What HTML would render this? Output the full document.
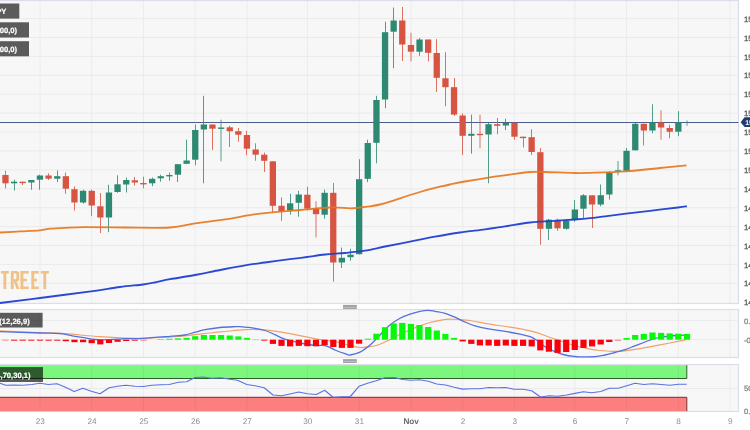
<!DOCTYPE html>
<html><head><meta charset="utf-8"><title>chart</title>
<style>html,body{margin:0;padding:0;background:#fff;overflow:hidden}svg{display:block;will-change:transform;text-rendering:geometricPrecision}</style></head>
<body><svg width="750" height="430" viewBox="0 0 750 430" font-family="Liberation Sans">
<defs><filter id="b" x="-10" y="-10" width="770" height="450" filterUnits="userSpaceOnUse" color-interpolation-filters="sRGB"><feGaussianBlur stdDeviation="0.38"/></filter></defs>
<rect x="0" y="0" width="750" height="430" fill="#fff"/>
<g filter="url(#b)">
<rect x="-10" y="-10" width="770" height="450" fill="#fff"/>
<rect x="-4" y="0.5" width="742.5" height="303" fill="#f7f7f8" stroke="#dcdde8" stroke-width="1.2"/>
<rect x="-4" y="309.5" width="742.5" height="48" fill="#f7f7f8" stroke="#dcdde8" stroke-width="1.2"/>
<rect x="-4" y="364.5" width="742.5" height="47" fill="#f7f7f8" stroke="#dcdde8" stroke-width="1.2"/>
<line x1="40.0" y1="1" x2="40.0" y2="303" stroke="#ececef" stroke-width="1"/>
<line x1="40.0" y1="310" x2="40.0" y2="357" stroke="#ececef" stroke-width="1"/>
<line x1="40.0" y1="365" x2="40.0" y2="411" stroke="#ececef" stroke-width="1"/>
<line x1="91.7" y1="1" x2="91.7" y2="303" stroke="#ececef" stroke-width="1"/>
<line x1="91.7" y1="310" x2="91.7" y2="357" stroke="#ececef" stroke-width="1"/>
<line x1="91.7" y1="365" x2="91.7" y2="411" stroke="#ececef" stroke-width="1"/>
<line x1="143.5" y1="1" x2="143.5" y2="303" stroke="#ececef" stroke-width="1"/>
<line x1="143.5" y1="310" x2="143.5" y2="357" stroke="#ececef" stroke-width="1"/>
<line x1="143.5" y1="365" x2="143.5" y2="411" stroke="#ececef" stroke-width="1"/>
<line x1="195.2" y1="1" x2="195.2" y2="303" stroke="#ececef" stroke-width="1"/>
<line x1="195.2" y1="310" x2="195.2" y2="357" stroke="#ececef" stroke-width="1"/>
<line x1="195.2" y1="365" x2="195.2" y2="411" stroke="#ececef" stroke-width="1"/>
<line x1="247.0" y1="1" x2="247.0" y2="303" stroke="#ececef" stroke-width="1"/>
<line x1="247.0" y1="310" x2="247.0" y2="357" stroke="#ececef" stroke-width="1"/>
<line x1="247.0" y1="365" x2="247.0" y2="411" stroke="#ececef" stroke-width="1"/>
<line x1="307.4" y1="1" x2="307.4" y2="303" stroke="#ececef" stroke-width="1"/>
<line x1="307.4" y1="310" x2="307.4" y2="357" stroke="#ececef" stroke-width="1"/>
<line x1="307.4" y1="365" x2="307.4" y2="411" stroke="#ececef" stroke-width="1"/>
<line x1="359.1" y1="1" x2="359.1" y2="303" stroke="#ececef" stroke-width="1"/>
<line x1="359.1" y1="310" x2="359.1" y2="357" stroke="#ececef" stroke-width="1"/>
<line x1="359.1" y1="365" x2="359.1" y2="411" stroke="#ececef" stroke-width="1"/>
<line x1="410.9" y1="1" x2="410.9" y2="303" stroke="#ececef" stroke-width="1"/>
<line x1="410.9" y1="310" x2="410.9" y2="357" stroke="#ececef" stroke-width="1"/>
<line x1="410.9" y1="365" x2="410.9" y2="411" stroke="#ececef" stroke-width="1"/>
<line x1="462.7" y1="1" x2="462.7" y2="303" stroke="#ececef" stroke-width="1"/>
<line x1="462.7" y1="310" x2="462.7" y2="357" stroke="#ececef" stroke-width="1"/>
<line x1="462.7" y1="365" x2="462.7" y2="411" stroke="#ececef" stroke-width="1"/>
<line x1="514.4" y1="1" x2="514.4" y2="303" stroke="#ececef" stroke-width="1"/>
<line x1="514.4" y1="310" x2="514.4" y2="357" stroke="#ececef" stroke-width="1"/>
<line x1="514.4" y1="365" x2="514.4" y2="411" stroke="#ececef" stroke-width="1"/>
<line x1="574.8" y1="1" x2="574.8" y2="303" stroke="#ececef" stroke-width="1"/>
<line x1="574.8" y1="310" x2="574.8" y2="357" stroke="#ececef" stroke-width="1"/>
<line x1="574.8" y1="365" x2="574.8" y2="411" stroke="#ececef" stroke-width="1"/>
<line x1="626.6" y1="1" x2="626.6" y2="303" stroke="#ececef" stroke-width="1"/>
<line x1="626.6" y1="310" x2="626.6" y2="357" stroke="#ececef" stroke-width="1"/>
<line x1="626.6" y1="365" x2="626.6" y2="411" stroke="#ececef" stroke-width="1"/>
<line x1="678.3" y1="1" x2="678.3" y2="303" stroke="#ececef" stroke-width="1"/>
<line x1="678.3" y1="310" x2="678.3" y2="357" stroke="#ececef" stroke-width="1"/>
<line x1="678.3" y1="365" x2="678.3" y2="411" stroke="#ececef" stroke-width="1"/>
<line x1="730.1" y1="1" x2="730.1" y2="303" stroke="#ececef" stroke-width="1"/>
<line x1="730.1" y1="310" x2="730.1" y2="357" stroke="#ececef" stroke-width="1"/>
<line x1="730.1" y1="365" x2="730.1" y2="411" stroke="#ececef" stroke-width="1"/>
<line x1="-4" y1="18.6" x2="738.5" y2="18.6" stroke="#eaeaeb" stroke-width="1"/>
<line x1="-4" y1="37.5" x2="738.5" y2="37.5" stroke="#eaeaeb" stroke-width="1"/>
<line x1="-4" y1="56.4" x2="738.5" y2="56.4" stroke="#eaeaeb" stroke-width="1"/>
<line x1="-4" y1="75.3" x2="738.5" y2="75.3" stroke="#eaeaeb" stroke-width="1"/>
<line x1="-4" y1="94.2" x2="738.5" y2="94.2" stroke="#eaeaeb" stroke-width="1"/>
<line x1="-4" y1="113.1" x2="738.5" y2="113.1" stroke="#eaeaeb" stroke-width="1"/>
<line x1="-4" y1="132.0" x2="738.5" y2="132.0" stroke="#eaeaeb" stroke-width="1"/>
<line x1="-4" y1="150.9" x2="738.5" y2="150.9" stroke="#eaeaeb" stroke-width="1"/>
<line x1="-4" y1="169.9" x2="738.5" y2="169.9" stroke="#eaeaeb" stroke-width="1"/>
<line x1="-4" y1="188.8" x2="738.5" y2="188.8" stroke="#eaeaeb" stroke-width="1"/>
<line x1="-4" y1="207.7" x2="738.5" y2="207.7" stroke="#eaeaeb" stroke-width="1"/>
<line x1="-4" y1="226.6" x2="738.5" y2="226.6" stroke="#eaeaeb" stroke-width="1"/>
<line x1="-4" y1="245.5" x2="738.5" y2="245.5" stroke="#eaeaeb" stroke-width="1"/>
<line x1="-4" y1="264.4" x2="738.5" y2="264.4" stroke="#eaeaeb" stroke-width="1"/>
<line x1="-4" y1="283.3" x2="738.5" y2="283.3" stroke="#eaeaeb" stroke-width="1"/>
<line x1="-4" y1="320.4" x2="738.5" y2="320.4" stroke="#eaeaeb" stroke-width="1"/>
<line x1="-4" y1="339.6" x2="738.5" y2="339.6" stroke="#eaeaeb" stroke-width="1"/>
<line x1="-4" y1="388.5" x2="738.5" y2="388.5" stroke="#eaeaeb" stroke-width="1"/>
<g opacity="0.88">
<rect x="0.90" y="271.00" width="7.90" height="2.60" fill="#efbb78"/>
<rect x="3.40" y="271.00" width="2.90" height="18.10" fill="#efbb78"/>
<rect x="10.80" y="271.00" width="2.90" height="18.10" fill="#efbb78"/>
<path d="M13.5,271 H16.2 Q19.2,271 19.2,274 V278.6 Q19.2,281.4 16.6,281.6 L19.6,289.1 H16.6 L13.9,281.8 H13.5 V279.3 H15.4 Q16.4,279.3 16.4,278.2 V274.6 Q16.4,273.6 15.4,273.6 H13.5 Z" fill="#efbb78"/>
<rect x="20.50" y="271.00" width="2.90" height="18.10" fill="#efbb78"/>
<rect x="20.50" y="271.00" width="8.30" height="2.60" fill="#efbb78"/>
<rect x="20.50" y="278.80" width="6.40" height="2.60" fill="#efbb78"/>
<rect x="20.50" y="286.50" width="8.30" height="2.60" fill="#efbb78"/>
<rect x="31.40" y="271.00" width="2.90" height="18.10" fill="#efbb78"/>
<rect x="31.40" y="271.00" width="7.40" height="2.60" fill="#efbb78"/>
<rect x="31.40" y="278.80" width="5.60" height="2.60" fill="#efbb78"/>
<rect x="31.40" y="286.50" width="7.40" height="2.60" fill="#efbb78"/>
<rect x="40.70" y="271.00" width="8.20" height="2.60" fill="#efbb78"/>
<rect x="43.30" y="271.00" width="2.90" height="18.10" fill="#efbb78"/>
</g>
<line x1="-4" y1="122.4" x2="738.5" y2="122.4" stroke="#4c5d8b" stroke-width="1.05"/>
<line x1="5.5" y1="170.8" x2="5.5" y2="188.3" stroke="#d65441" stroke-width="1" opacity="0.82"/>
<rect x="2.3" y="175.0" width="6.3" height="8.3" fill="#d65441"/>
<line x1="14.5" y1="179.7" x2="14.5" y2="190.5" stroke="#2e8972" stroke-width="1" opacity="0.82"/>
<rect x="10.9" y="181.7" width="6.3" height="1.6" fill="#2e8972"/>
<line x1="22.5" y1="181.7" x2="22.5" y2="185.0" stroke="#d65441" stroke-width="1" opacity="0.82"/>
<rect x="19.5" y="181.7" width="6.3" height="1.4" fill="#d65441"/>
<line x1="31.5" y1="180.0" x2="31.5" y2="189.7" stroke="#2e8972" stroke-width="1" opacity="0.82"/>
<rect x="28.2" y="180.0" width="6.3" height="2.5" fill="#2e8972"/>
<line x1="39.5" y1="174.7" x2="39.5" y2="189.7" stroke="#2e8972" stroke-width="1" opacity="0.82"/>
<rect x="36.8" y="175.5" width="6.3" height="4.2" fill="#2e8972"/>
<line x1="48.5" y1="173.3" x2="48.5" y2="180.0" stroke="#d65441" stroke-width="1" opacity="0.82"/>
<rect x="45.4" y="175.5" width="6.3" height="3.2" fill="#d65441"/>
<line x1="57.5" y1="170.5" x2="57.5" y2="182.0" stroke="#2e8972" stroke-width="1" opacity="0.82"/>
<rect x="54.1" y="176.2" width="6.3" height="2.5" fill="#2e8972"/>
<line x1="65.5" y1="172.5" x2="65.5" y2="193.8" stroke="#d65441" stroke-width="1" opacity="0.82"/>
<rect x="62.7" y="176.2" width="6.3" height="12.5" fill="#d65441"/>
<line x1="74.5" y1="186.3" x2="74.5" y2="210.5" stroke="#d65441" stroke-width="1" opacity="0.82"/>
<rect x="71.3" y="189.2" width="6.3" height="13.3" fill="#d65441"/>
<line x1="83.5" y1="189.7" x2="83.5" y2="203.7" stroke="#2e8972" stroke-width="1" opacity="0.82"/>
<rect x="79.9" y="190.8" width="6.3" height="11.7" fill="#2e8972"/>
<line x1="91.5" y1="189.7" x2="91.5" y2="216.2" stroke="#d65441" stroke-width="1" opacity="0.82"/>
<rect x="88.6" y="190.8" width="6.3" height="14.7" fill="#d65441"/>
<line x1="100.5" y1="193.0" x2="100.5" y2="233.0" stroke="#d65441" stroke-width="1" opacity="0.82"/>
<rect x="97.2" y="206.3" width="6.3" height="11.2" fill="#d65441"/>
<line x1="108.5" y1="184.7" x2="108.5" y2="232.2" stroke="#2e8972" stroke-width="1" opacity="0.82"/>
<rect x="105.8" y="192.5" width="6.3" height="25.0" fill="#2e8972"/>
<line x1="117.5" y1="175.3" x2="117.5" y2="192.8" stroke="#2e8972" stroke-width="1" opacity="0.82"/>
<rect x="114.4" y="184.3" width="6.3" height="7.7" fill="#2e8972"/>
<line x1="126.5" y1="177.5" x2="126.5" y2="192.5" stroke="#2e8972" stroke-width="1" opacity="0.82"/>
<rect x="123.1" y="180.0" width="6.3" height="4.5" fill="#2e8972"/>
<line x1="134.5" y1="177.0" x2="134.5" y2="185.5" stroke="#d65441" stroke-width="1" opacity="0.82"/>
<rect x="131.7" y="180.3" width="6.3" height="2.2" fill="#d65441"/>
<line x1="143.5" y1="176.7" x2="143.5" y2="188.3" stroke="#d65441" stroke-width="1" opacity="0.82"/>
<rect x="140.3" y="183.0" width="6.3" height="1.4" fill="#d65441"/>
<line x1="152.5" y1="177.5" x2="152.5" y2="186.2" stroke="#2e8972" stroke-width="1" opacity="0.82"/>
<rect x="149.0" y="178.8" width="6.3" height="4.5" fill="#2e8972"/>
<line x1="160.5" y1="174.7" x2="160.5" y2="181.7" stroke="#2e8972" stroke-width="1" opacity="0.82"/>
<rect x="157.6" y="176.2" width="6.3" height="2.1" fill="#2e8972"/>
<line x1="169.5" y1="172.5" x2="169.5" y2="180.8" stroke="#2e8972" stroke-width="1" opacity="0.82"/>
<rect x="166.2" y="175.0" width="6.3" height="1.4" fill="#2e8972"/>
<line x1="177.5" y1="164.0" x2="177.5" y2="182.0" stroke="#2e8972" stroke-width="1" opacity="0.82"/>
<rect x="174.8" y="164.2" width="6.3" height="10.5" fill="#2e8972"/>
<line x1="186.5" y1="139.7" x2="186.5" y2="163.8" stroke="#2e8972" stroke-width="1" opacity="0.82"/>
<rect x="183.5" y="160.5" width="6.3" height="3.3" fill="#2e8972"/>
<line x1="195.5" y1="124.5" x2="195.5" y2="165.3" stroke="#2e8972" stroke-width="1" opacity="0.82"/>
<rect x="192.1" y="130.0" width="6.3" height="29.7" fill="#2e8972"/>
<line x1="203.5" y1="95.8" x2="203.5" y2="183.3" stroke="#2e8972" stroke-width="1" opacity="0.82"/>
<rect x="200.7" y="124.5" width="6.3" height="5.0" fill="#2e8972"/>
<line x1="212.5" y1="124.5" x2="212.5" y2="150.0" stroke="#d65441" stroke-width="1" opacity="0.82"/>
<rect x="209.3" y="124.5" width="6.3" height="4.2" fill="#d65441"/>
<line x1="221.0" y1="119.7" x2="221.0" y2="161.3" stroke="#2e8972" stroke-width="1" opacity="0.82"/>
<rect x="218.0" y="127.5" width="6.3" height="1.4" fill="#2e8972"/>
<line x1="229.5" y1="125.8" x2="229.5" y2="147.0" stroke="#d65441" stroke-width="1" opacity="0.82"/>
<rect x="226.6" y="127.3" width="6.3" height="3.9" fill="#d65441"/>
<line x1="238.5" y1="128.0" x2="238.5" y2="141.7" stroke="#d65441" stroke-width="1" opacity="0.82"/>
<rect x="235.2" y="131.2" width="6.3" height="3.5" fill="#d65441"/>
<line x1="246.5" y1="130.8" x2="246.5" y2="155.3" stroke="#d65441" stroke-width="1" opacity="0.82"/>
<rect x="243.8" y="135.0" width="6.3" height="13.7" fill="#d65441"/>
<line x1="255.5" y1="143.3" x2="255.5" y2="160.8" stroke="#d65441" stroke-width="1" opacity="0.82"/>
<rect x="252.5" y="149.5" width="6.3" height="5.2" fill="#d65441"/>
<line x1="264.5" y1="152.5" x2="264.5" y2="172.0" stroke="#d65441" stroke-width="1" opacity="0.82"/>
<rect x="261.1" y="154.7" width="6.3" height="6.1" fill="#d65441"/>
<line x1="272.5" y1="161.3" x2="272.5" y2="212.5" stroke="#d65441" stroke-width="1" opacity="0.82"/>
<rect x="269.7" y="161.3" width="6.3" height="44.5" fill="#d65441"/>
<line x1="281.5" y1="197.5" x2="281.5" y2="220.8" stroke="#d65441" stroke-width="1" opacity="0.82"/>
<rect x="278.4" y="205.8" width="6.3" height="5.5" fill="#d65441"/>
<line x1="290.5" y1="193.8" x2="290.5" y2="214.7" stroke="#2e8972" stroke-width="1" opacity="0.82"/>
<rect x="287.0" y="203.3" width="6.3" height="7.2" fill="#2e8972"/>
<line x1="298.5" y1="190.8" x2="298.5" y2="216.7" stroke="#2e8972" stroke-width="1" opacity="0.82"/>
<rect x="295.6" y="194.5" width="6.3" height="8.3" fill="#2e8972"/>
<line x1="307.5" y1="186.7" x2="307.5" y2="210.5" stroke="#d65441" stroke-width="1" opacity="0.82"/>
<rect x="304.2" y="194.7" width="6.3" height="14.0" fill="#d65441"/>
<line x1="316.0" y1="201.2" x2="316.0" y2="237.5" stroke="#d65441" stroke-width="1" opacity="0.82"/>
<rect x="312.9" y="208.7" width="6.3" height="5.5" fill="#d65441"/>
<line x1="324.5" y1="189.7" x2="324.5" y2="218.7" stroke="#2e8972" stroke-width="1" opacity="0.82"/>
<rect x="321.5" y="192.8" width="6.3" height="21.9" fill="#2e8972"/>
<line x1="333.5" y1="183.0" x2="333.5" y2="281.7" stroke="#d65441" stroke-width="1" opacity="0.82"/>
<rect x="330.1" y="192.8" width="6.3" height="69.7" fill="#d65441"/>
<line x1="341.5" y1="247.5" x2="341.5" y2="268.0" stroke="#2e8972" stroke-width="1" opacity="0.82"/>
<rect x="338.7" y="257.8" width="6.3" height="4.7" fill="#2e8972"/>
<line x1="350.5" y1="248.8" x2="350.5" y2="260.8" stroke="#2e8972" stroke-width="1" opacity="0.82"/>
<rect x="347.4" y="254.7" width="6.3" height="2.5" fill="#2e8972"/>
<line x1="359.5" y1="159.2" x2="359.5" y2="254.5" stroke="#2e8972" stroke-width="1" opacity="0.82"/>
<rect x="356.0" y="179.2" width="6.3" height="75.0" fill="#2e8972"/>
<line x1="367.5" y1="139.7" x2="367.5" y2="182.2" stroke="#2e8972" stroke-width="1" opacity="0.82"/>
<rect x="364.6" y="143.0" width="6.3" height="35.8" fill="#2e8972"/>
<line x1="376.5" y1="95.8" x2="376.5" y2="163.3" stroke="#2e8972" stroke-width="1" opacity="0.82"/>
<rect x="373.3" y="100.0" width="6.3" height="42.8" fill="#2e8972"/>
<line x1="385.5" y1="21.7" x2="385.5" y2="108.3" stroke="#2e8972" stroke-width="1" opacity="0.82"/>
<rect x="381.9" y="32.2" width="6.3" height="67.3" fill="#2e8972"/>
<line x1="393.5" y1="7.5" x2="393.5" y2="68.3" stroke="#2e8972" stroke-width="1" opacity="0.82"/>
<rect x="390.5" y="20.5" width="6.3" height="11.2" fill="#2e8972"/>
<line x1="402.5" y1="7.0" x2="402.5" y2="61.0" stroke="#d65441" stroke-width="1" opacity="0.82"/>
<rect x="399.1" y="20.5" width="6.3" height="24.0" fill="#d65441"/>
<line x1="411.0" y1="32.8" x2="411.0" y2="61.3" stroke="#d65441" stroke-width="1" opacity="0.82"/>
<rect x="407.8" y="45.0" width="6.3" height="6.7" fill="#d65441"/>
<line x1="419.5" y1="38.0" x2="419.5" y2="55.8" stroke="#2e8972" stroke-width="1" opacity="0.82"/>
<rect x="416.4" y="39.5" width="6.3" height="12.2" fill="#2e8972"/>
<line x1="428.5" y1="39.5" x2="428.5" y2="61.3" stroke="#d65441" stroke-width="1" opacity="0.82"/>
<rect x="425.0" y="39.5" width="6.3" height="13.3" fill="#d65441"/>
<line x1="436.5" y1="39.2" x2="436.5" y2="92.0" stroke="#d65441" stroke-width="1" opacity="0.82"/>
<rect x="433.6" y="53.0" width="6.3" height="24.8" fill="#d65441"/>
<line x1="445.5" y1="52.2" x2="445.5" y2="106.3" stroke="#d65441" stroke-width="1" opacity="0.82"/>
<rect x="442.3" y="78.3" width="6.3" height="8.9" fill="#d65441"/>
<line x1="454.5" y1="78.0" x2="454.5" y2="115.8" stroke="#d65441" stroke-width="1" opacity="0.82"/>
<rect x="450.9" y="87.2" width="6.3" height="27.4" fill="#d65441"/>
<line x1="462.5" y1="113.3" x2="462.5" y2="155.0" stroke="#d65441" stroke-width="1" opacity="0.82"/>
<rect x="459.5" y="115.5" width="6.3" height="20.3" fill="#d65441"/>
<line x1="471.5" y1="114.7" x2="471.5" y2="153.7" stroke="#2e8972" stroke-width="1" opacity="0.82"/>
<rect x="468.2" y="133.8" width="6.3" height="2.0" fill="#2e8972"/>
<line x1="480.0" y1="114.7" x2="480.0" y2="148.3" stroke="#d65441" stroke-width="1" opacity="0.82"/>
<rect x="476.8" y="133.8" width="6.3" height="1.4" fill="#d65441"/>
<line x1="488.5" y1="122.5" x2="488.5" y2="183.3" stroke="#2e8972" stroke-width="1" opacity="0.82"/>
<rect x="485.4" y="124.2" width="6.3" height="10.3" fill="#2e8972"/>
<line x1="497.5" y1="118.0" x2="497.5" y2="134.2" stroke="#d65441" stroke-width="1" opacity="0.82"/>
<rect x="494.0" y="124.2" width="6.3" height="1.6" fill="#d65441"/>
<line x1="505.5" y1="118.7" x2="505.5" y2="130.0" stroke="#2e8972" stroke-width="1" opacity="0.82"/>
<rect x="502.7" y="122.8" width="6.3" height="2.7" fill="#2e8972"/>
<line x1="514.5" y1="122.8" x2="514.5" y2="139.7" stroke="#d65441" stroke-width="1" opacity="0.82"/>
<rect x="511.3" y="122.8" width="6.3" height="13.9" fill="#d65441"/>
<line x1="523.5" y1="136.7" x2="523.5" y2="147.5" stroke="#d65441" stroke-width="1" opacity="0.82"/>
<rect x="519.9" y="136.7" width="6.3" height="1.4" fill="#d65441"/>
<line x1="531.5" y1="129.2" x2="531.5" y2="155.0" stroke="#d65441" stroke-width="1" opacity="0.82"/>
<rect x="528.5" y="137.2" width="6.3" height="14.8" fill="#d65441"/>
<line x1="540.5" y1="148.0" x2="540.5" y2="244.7" stroke="#d65441" stroke-width="1" opacity="0.82"/>
<rect x="537.2" y="152.2" width="6.3" height="76.6" fill="#d65441"/>
<line x1="548.5" y1="219.0" x2="548.5" y2="240.0" stroke="#2e8972" stroke-width="1" opacity="0.82"/>
<rect x="545.8" y="219.7" width="6.3" height="9.1" fill="#2e8972"/>
<line x1="557.5" y1="218.7" x2="557.5" y2="230.8" stroke="#d65441" stroke-width="1" opacity="0.82"/>
<rect x="554.4" y="219.7" width="6.3" height="8.6" fill="#d65441"/>
<line x1="566.5" y1="219.2" x2="566.5" y2="229.7" stroke="#2e8972" stroke-width="1" opacity="0.82"/>
<rect x="563.0" y="220.8" width="6.3" height="8.0" fill="#2e8972"/>
<line x1="574.5" y1="200.0" x2="574.5" y2="221.7" stroke="#2e8972" stroke-width="1" opacity="0.82"/>
<rect x="571.7" y="209.5" width="6.3" height="10.5" fill="#2e8972"/>
<line x1="583.5" y1="194.2" x2="583.5" y2="218.0" stroke="#2e8972" stroke-width="1" opacity="0.82"/>
<rect x="580.3" y="195.3" width="6.3" height="13.4" fill="#2e8972"/>
<line x1="592.5" y1="195.3" x2="592.5" y2="228.0" stroke="#d65441" stroke-width="1" opacity="0.82"/>
<rect x="588.9" y="195.3" width="6.3" height="9.2" fill="#d65441"/>
<line x1="600.5" y1="184.5" x2="600.5" y2="206.3" stroke="#2e8972" stroke-width="1" opacity="0.82"/>
<rect x="597.6" y="195.2" width="6.3" height="9.3" fill="#2e8972"/>
<line x1="609.5" y1="171.3" x2="609.5" y2="199.6" stroke="#2e8972" stroke-width="1" opacity="0.82"/>
<rect x="606.2" y="172.5" width="6.3" height="22.0" fill="#2e8972"/>
<line x1="618.0" y1="161.0" x2="618.0" y2="175.3" stroke="#2e8972" stroke-width="1" opacity="0.82"/>
<rect x="614.8" y="170.3" width="6.3" height="1.4" fill="#2e8972"/>
<line x1="626.5" y1="148.0" x2="626.5" y2="172.0" stroke="#2e8972" stroke-width="1" opacity="0.82"/>
<rect x="623.4" y="150.8" width="6.3" height="20.0" fill="#2e8972"/>
<line x1="635.5" y1="122.5" x2="635.5" y2="150.5" stroke="#2e8972" stroke-width="1" opacity="0.82"/>
<rect x="632.1" y="123.8" width="6.3" height="26.5" fill="#2e8972"/>
<line x1="643.5" y1="123.5" x2="643.5" y2="145.5" stroke="#d65441" stroke-width="1" opacity="0.82"/>
<rect x="640.7" y="123.8" width="6.3" height="6.7" fill="#d65441"/>
<line x1="652.5" y1="104.2" x2="652.5" y2="133.3" stroke="#2e8972" stroke-width="1" opacity="0.82"/>
<rect x="649.3" y="122.5" width="6.3" height="8.0" fill="#2e8972"/>
<line x1="661.0" y1="110.3" x2="661.0" y2="139.7" stroke="#d65441" stroke-width="1" opacity="0.82"/>
<rect x="657.9" y="122.5" width="6.3" height="5.0" fill="#d65441"/>
<line x1="669.5" y1="124.7" x2="669.5" y2="138.3" stroke="#d65441" stroke-width="1" opacity="0.82"/>
<rect x="666.6" y="128.0" width="6.3" height="3.7" fill="#d65441"/>
<line x1="678.5" y1="111.2" x2="678.5" y2="136.2" stroke="#2e8972" stroke-width="1" opacity="0.82"/>
<rect x="675.2" y="122.5" width="6.3" height="9.2" fill="#2e8972"/>
<line x1="687.0" y1="120.5" x2="687.0" y2="125.8" stroke="#2e8972" stroke-width="1" opacity="0.82"/>
<path d="M-4.00,232.72 C-3.33,232.68 -4.00,232.72 0.00,232.50 C4.00,232.28 13.33,231.77 20.00,231.40 C26.67,231.03 35.00,230.75 40.00,230.30 C45.00,229.85 45.83,229.12 50.00,228.70 C54.17,228.28 59.17,228.05 65.00,227.80 C70.83,227.55 75.00,227.25 85.00,227.20 C95.00,227.15 110.83,227.45 125.00,227.50 C139.17,227.55 158.33,228.20 170.00,227.50 C181.67,226.80 185.83,224.65 195.00,223.30 C204.17,221.95 214.17,221.00 225.00,219.40 C235.83,217.80 247.50,215.27 260.00,213.70 C272.50,212.13 288.33,211.03 300.00,210.00 C311.67,208.97 321.67,207.78 330.00,207.50 C338.33,207.22 345.00,208.30 350.00,208.30 C355.00,208.30 356.67,207.83 360.00,207.50 C363.33,207.17 366.67,206.80 370.00,206.30 C373.33,205.80 376.67,205.27 380.00,204.50 C383.33,203.73 386.67,202.73 390.00,201.70 C393.33,200.67 396.67,199.42 400.00,198.30 C403.33,197.18 406.67,196.05 410.00,195.00 C413.33,193.95 416.67,192.97 420.00,192.00 C423.33,191.03 426.67,190.08 430.00,189.20 C433.33,188.32 436.67,187.48 440.00,186.70 C443.33,185.92 445.83,185.37 450.00,184.50 C454.17,183.63 458.33,182.70 465.00,181.50 C471.67,180.30 482.50,178.45 490.00,177.30 C497.50,176.15 503.33,175.48 510.00,174.60 C516.67,173.72 524.17,172.43 530.00,172.00 C535.83,171.57 537.50,171.83 545.00,172.00 C552.50,172.17 567.50,172.87 575.00,173.00 C582.50,173.13 581.50,173.08 590.00,172.80 C598.50,172.52 614.33,172.10 626.00,171.30 C637.67,170.50 649.92,169.00 660.00,168.00 C670.08,167.00 682.08,165.75 686.50,165.30" fill="none" stroke="#e67418" stroke-width="1.8" stroke-linejoin="round" opacity="0.9"/>
<path d="M-4.00,303.50 C-3.33,303.42 -7.33,303.92 0.00,303.00 C7.33,302.08 24.83,299.95 40.00,298.00 C55.17,296.05 77.67,293.13 91.00,291.30 C104.33,289.47 111.33,288.13 120.00,287.00 C128.67,285.87 137.17,285.25 143.00,284.50 C148.83,283.75 150.50,283.38 155.00,282.50 C159.50,281.62 163.33,280.45 170.00,279.20 C176.67,277.95 186.67,276.53 195.00,275.00 C203.33,273.47 211.67,271.62 220.00,270.00 C228.33,268.38 237.50,266.55 245.00,265.30 C252.50,264.05 257.50,263.52 265.00,262.50 C272.50,261.48 283.00,260.12 290.00,259.20 C297.00,258.28 301.17,257.78 307.00,257.00 C312.83,256.22 318.67,255.17 325.00,254.50 C331.33,253.83 338.33,253.63 345.00,253.00 C351.67,252.37 358.33,251.78 365.00,250.70 C371.67,249.62 377.50,248.02 385.00,246.50 C392.50,244.98 401.67,243.23 410.00,241.60 C418.33,239.97 426.67,238.22 435.00,236.70 C443.33,235.18 451.67,233.73 460.00,232.50 C468.33,231.27 477.50,230.33 485.00,229.30 C492.50,228.27 497.50,227.43 505.00,226.30 C512.50,225.17 524.17,223.27 530.00,222.50 C535.83,221.73 535.83,221.98 540.00,221.70 C544.17,221.42 549.17,221.17 555.00,220.80 C560.83,220.43 569.17,219.93 575.00,219.50 C580.83,219.07 585.00,218.73 590.00,218.20 C595.00,217.67 599.00,217.05 605.00,216.30 C611.00,215.55 618.50,214.62 626.00,213.70 C633.50,212.78 641.33,211.83 650.00,210.80 C658.67,209.77 671.83,208.25 678.00,207.50 C684.17,206.75 685.50,206.50 687.00,206.30" fill="none" stroke="#1f3fd0" stroke-width="1.8" stroke-linejoin="round" opacity="0.95"/>
<path d="M-4.00,330.63 C-3.33,330.66 -7.33,330.49 0.00,330.80 C7.33,331.11 30.00,332.13 40.00,332.50 C50.00,332.87 53.33,332.58 60.00,333.00 C66.67,333.42 73.33,334.38 80.00,335.00 C86.67,335.62 92.50,336.20 100.00,336.70 C107.50,337.20 117.83,337.73 125.00,338.00 C132.17,338.27 135.50,338.47 143.00,338.30 C150.50,338.13 162.17,337.50 170.00,337.00 C177.83,336.50 183.33,335.97 190.00,335.30 C196.67,334.63 204.17,333.63 210.00,333.00 C215.83,332.37 219.17,332.05 225.00,331.50 C230.83,330.95 239.17,330.00 245.00,329.70 C250.83,329.40 255.00,329.45 260.00,329.70 C265.00,329.95 270.00,330.53 275.00,331.20 C280.00,331.87 285.00,332.78 290.00,333.70 C295.00,334.62 300.00,335.73 305.00,336.70 C310.00,337.67 315.00,338.67 320.00,339.50 C325.00,340.33 330.00,340.70 335.00,341.70 C340.00,342.70 345.83,344.53 350.00,345.50 C354.17,346.47 356.67,347.30 360.00,347.50 C363.33,347.70 366.67,347.25 370.00,346.70 C373.33,346.15 376.67,345.40 380.00,344.20 C383.33,343.00 386.67,341.17 390.00,339.50 C393.33,337.83 396.67,335.78 400.00,334.20 C403.33,332.62 406.67,331.40 410.00,330.00 C413.33,328.60 416.67,327.05 420.00,325.80 C423.33,324.55 426.67,323.42 430.00,322.50 C433.33,321.58 436.67,320.85 440.00,320.30 C443.33,319.75 446.67,319.30 450.00,319.20 C453.33,319.10 456.67,319.48 460.00,319.70 C463.33,319.92 465.00,319.75 470.00,320.50 C475.00,321.25 483.33,323.08 490.00,324.20 C496.67,325.32 503.33,326.10 510.00,327.20 C516.67,328.30 525.00,329.72 530.00,330.80 C535.00,331.88 536.67,332.58 540.00,333.70 C543.33,334.82 546.67,336.32 550.00,337.50 C553.33,338.68 556.67,339.67 560.00,340.80 C563.33,341.93 566.67,343.27 570.00,344.30 C573.33,345.33 576.67,346.18 580.00,347.00 C583.33,347.82 586.67,348.62 590.00,349.20 C593.33,349.78 596.33,350.15 600.00,350.50 C603.67,350.85 607.83,351.25 612.00,351.30 C616.17,351.35 620.33,351.23 625.00,350.80 C629.67,350.37 635.00,349.53 640.00,348.70 C645.00,347.87 650.00,346.75 655.00,345.80 C660.00,344.85 664.75,344.02 670.00,343.00 C675.25,341.98 683.75,340.25 686.50,339.70" fill="none" stroke="#f0a26a" stroke-width="1.2" stroke-linejoin="round"/>
<path d="M-4.00,331.57 C-3.33,331.59 -7.33,331.46 0.00,331.70 C7.33,331.94 30.00,332.67 40.00,333.00 C50.00,333.33 54.17,333.15 60.00,333.70 C65.83,334.25 69.17,335.33 75.00,336.30 C80.83,337.27 89.17,338.95 95.00,339.50 C100.83,340.05 105.00,339.73 110.00,339.60 C115.00,339.47 119.50,338.92 125.00,338.70 C130.50,338.48 135.50,338.70 143.00,338.30 C150.50,337.90 163.00,336.85 170.00,336.30 C177.00,335.75 180.83,335.68 185.00,335.00 C189.17,334.32 191.67,333.08 195.00,332.20 C198.33,331.32 200.83,330.48 205.00,329.70 C209.17,328.92 215.00,328.00 220.00,327.50 C225.00,327.00 231.67,326.83 235.00,326.70 C238.33,326.57 236.67,326.43 240.00,326.70 C243.33,326.97 250.83,327.67 255.00,328.30 C259.17,328.93 261.67,329.43 265.00,330.50 C268.33,331.57 271.67,333.25 275.00,334.70 C278.33,336.15 280.83,337.82 285.00,339.20 C289.17,340.58 295.00,341.95 300.00,343.00 C305.00,344.05 310.83,345.08 315.00,345.50 C319.17,345.92 321.67,344.75 325.00,345.50 C328.33,346.25 331.67,348.63 335.00,350.00 C338.33,351.37 342.50,352.87 345.00,353.70 C347.50,354.53 347.50,355.25 350.00,355.00 C352.50,354.75 356.67,353.87 360.00,352.20 C363.33,350.53 366.67,347.87 370.00,345.00 C373.33,342.13 376.67,338.33 380.00,335.00 C383.33,331.67 386.67,327.78 390.00,325.00 C393.33,322.22 396.67,320.10 400.00,318.30 C403.33,316.50 406.67,315.37 410.00,314.20 C413.33,313.03 417.00,311.95 420.00,311.30 C423.00,310.65 425.50,310.30 428.00,310.30 C430.50,310.30 432.17,310.80 435.00,311.30 C437.83,311.80 441.67,312.32 445.00,313.30 C448.33,314.28 451.67,315.75 455.00,317.20 C458.33,318.65 461.67,320.57 465.00,322.00 C468.33,323.43 470.83,324.60 475.00,325.80 C479.17,327.00 485.00,328.28 490.00,329.20 C495.00,330.12 500.00,330.47 505.00,331.30 C510.00,332.13 515.83,333.30 520.00,334.20 C524.17,335.10 527.50,335.87 530.00,336.70 C532.50,337.53 533.33,338.23 535.00,339.20 C536.67,340.17 538.33,341.25 540.00,342.50 C541.67,343.75 542.50,345.17 545.00,346.70 C547.50,348.23 551.67,350.32 555.00,351.70 C558.33,353.08 561.67,354.20 565.00,355.00 C568.33,355.80 572.50,356.20 575.00,356.50 C577.50,356.80 576.67,356.77 580.00,356.80 C583.33,356.83 590.83,357.00 595.00,356.70 C599.17,356.40 601.67,355.70 605.00,355.00 C608.33,354.30 611.67,353.38 615.00,352.50 C618.33,351.62 621.67,350.82 625.00,349.70 C628.33,348.58 631.67,347.08 635.00,345.80 C638.33,344.52 641.67,343.25 645.00,342.00 C648.33,340.75 651.67,339.18 655.00,338.30 C658.33,337.42 661.67,337.17 665.00,336.70 C668.33,336.23 671.42,335.78 675.00,335.50 C678.58,335.22 684.58,335.08 686.50,335.00" fill="none" stroke="#5470dc" stroke-width="1.3" stroke-linejoin="round"/>
<rect x="2.3" y="339.7" width="6.2" height="1.0" fill="#f8000c" opacity="0.43"/>
<rect x="11.0" y="339.7" width="6.2" height="1.0" fill="#f8000c" opacity="0.92"/>
<rect x="19.6" y="339.7" width="6.2" height="1.0" fill="#f8000c" opacity="0.92"/>
<rect x="28.2" y="339.7" width="6.2" height="1.0" fill="#f8000c" opacity="0.92"/>
<rect x="36.9" y="339.7" width="6.2" height="1.0" fill="#f8000c" opacity="0.92"/>
<rect x="45.5" y="339.7" width="6.2" height="1.0" fill="#f8000c" opacity="0.92"/>
<rect x="54.1" y="339.7" width="6.2" height="1.0" fill="#f8000c" opacity="0.92"/>
<rect x="62.7" y="339.7" width="6.2" height="1.5" fill="#f8000c" opacity="1.00"/>
<rect x="71.4" y="339.7" width="6.2" height="2.5" fill="#f8000c" opacity="1.00"/>
<rect x="80.0" y="339.7" width="6.2" height="2.5" fill="#f8000c" opacity="1.00"/>
<rect x="88.6" y="339.7" width="6.2" height="3.5" fill="#f8000c" opacity="1.00"/>
<rect x="97.2" y="339.7" width="6.2" height="4.7" fill="#f8000c" opacity="1.00"/>
<rect x="105.9" y="339.7" width="6.2" height="3.3" fill="#f8000c" opacity="1.00"/>
<rect x="114.5" y="339.7" width="6.2" height="2.1" fill="#f8000c" opacity="1.00"/>
<rect x="123.1" y="339.7" width="6.2" height="1.3" fill="#f8000c" opacity="1.00"/>
<rect x="131.7" y="339.7" width="6.2" height="1.0" fill="#f8000c" opacity="0.92"/>
<rect x="140.4" y="339.7" width="6.2" height="1.0" fill="#f8000c" opacity="0.50"/>
<rect x="157.6" y="339.0" width="6.2" height="1.0" fill="#06f80a" opacity="0.50"/>
<rect x="166.3" y="338.7" width="6.2" height="1.0" fill="#06f80a" opacity="0.92"/>
<rect x="174.9" y="338.4" width="6.2" height="1.3" fill="#06f80a" opacity="1.00"/>
<rect x="183.5" y="337.9" width="6.2" height="1.8" fill="#06f80a" opacity="1.00"/>
<rect x="192.1" y="336.2" width="6.2" height="3.5" fill="#06f80a" opacity="1.00"/>
<rect x="200.8" y="335.0" width="6.2" height="4.7" fill="#06f80a" opacity="1.00"/>
<rect x="209.4" y="335.0" width="6.2" height="4.7" fill="#06f80a" opacity="1.00"/>
<rect x="218.0" y="335.0" width="6.2" height="4.7" fill="#06f80a" opacity="1.00"/>
<rect x="226.6" y="335.5" width="6.2" height="4.2" fill="#06f80a" opacity="1.00"/>
<rect x="235.3" y="336.4" width="6.2" height="3.3" fill="#06f80a" opacity="1.00"/>
<rect x="243.9" y="337.9" width="6.2" height="1.8" fill="#06f80a" opacity="1.00"/>
<rect x="252.5" y="339.2" width="6.2" height="1.0" fill="#06f80a" opacity="0.36"/>
<rect x="261.2" y="339.7" width="6.2" height="1.0" fill="#f8000c" opacity="0.92"/>
<rect x="269.8" y="339.7" width="6.2" height="4.2" fill="#f8000c" opacity="1.00"/>
<rect x="278.4" y="339.7" width="6.2" height="6.2" fill="#f8000c" opacity="1.00"/>
<rect x="287.0" y="339.7" width="6.2" height="6.7" fill="#f8000c" opacity="1.00"/>
<rect x="295.7" y="339.7" width="6.2" height="6.2" fill="#f8000c" opacity="1.00"/>
<rect x="304.3" y="339.7" width="6.2" height="6.5" fill="#f8000c" opacity="1.00"/>
<rect x="312.9" y="339.7" width="6.2" height="6.5" fill="#f8000c" opacity="1.00"/>
<rect x="321.5" y="339.7" width="6.2" height="5.3" fill="#f8000c" opacity="1.00"/>
<rect x="330.2" y="339.7" width="6.2" height="7.3" fill="#f8000c" opacity="1.00"/>
<rect x="338.8" y="339.7" width="6.2" height="8.2" fill="#f8000c" opacity="1.00"/>
<rect x="347.4" y="339.7" width="6.2" height="8.2" fill="#f8000c" opacity="1.00"/>
<rect x="356.0" y="339.7" width="6.2" height="4.0" fill="#f8000c" opacity="1.00"/>
<rect x="364.7" y="338.7" width="6.2" height="1.0" fill="#06f80a" opacity="0.92"/>
<rect x="373.3" y="333.7" width="6.2" height="6.0" fill="#06f80a" opacity="1.00"/>
<rect x="381.9" y="327.2" width="6.2" height="12.5" fill="#06f80a" opacity="1.00"/>
<rect x="390.6" y="323.4" width="6.2" height="16.3" fill="#06f80a" opacity="1.00"/>
<rect x="399.2" y="322.9" width="6.2" height="16.8" fill="#06f80a" opacity="1.00"/>
<rect x="407.8" y="323.9" width="6.2" height="15.8" fill="#06f80a" opacity="1.00"/>
<rect x="416.4" y="325.0" width="6.2" height="14.7" fill="#06f80a" opacity="1.00"/>
<rect x="425.1" y="327.0" width="6.2" height="12.7" fill="#06f80a" opacity="1.00"/>
<rect x="433.7" y="330.5" width="6.2" height="9.2" fill="#06f80a" opacity="1.00"/>
<rect x="442.3" y="333.9" width="6.2" height="5.8" fill="#06f80a" opacity="1.00"/>
<rect x="450.9" y="337.9" width="6.2" height="1.8" fill="#06f80a" opacity="1.00"/>
<rect x="459.6" y="339.7" width="6.2" height="1.7" fill="#f8000c" opacity="1.00"/>
<rect x="468.2" y="339.7" width="6.2" height="4.2" fill="#f8000c" opacity="1.00"/>
<rect x="476.8" y="339.7" width="6.2" height="5.7" fill="#f8000c" opacity="1.00"/>
<rect x="485.5" y="339.7" width="6.2" height="5.8" fill="#f8000c" opacity="1.00"/>
<rect x="494.1" y="339.7" width="6.2" height="6.2" fill="#f8000c" opacity="1.00"/>
<rect x="502.7" y="339.7" width="6.2" height="5.8" fill="#f8000c" opacity="1.00"/>
<rect x="511.3" y="339.7" width="6.2" height="6.2" fill="#f8000c" opacity="1.00"/>
<rect x="520.0" y="339.7" width="6.2" height="6.2" fill="#f8000c" opacity="1.00"/>
<rect x="528.6" y="339.7" width="6.2" height="6.7" fill="#f8000c" opacity="1.00"/>
<rect x="537.2" y="339.7" width="6.2" height="10.7" fill="#f8000c" opacity="1.00"/>
<rect x="545.8" y="339.7" width="6.2" height="12.0" fill="#f8000c" opacity="1.00"/>
<rect x="554.5" y="339.7" width="6.2" height="13.2" fill="#f8000c" opacity="1.00"/>
<rect x="563.1" y="339.7" width="6.2" height="12.3" fill="#f8000c" opacity="1.00"/>
<rect x="571.7" y="339.7" width="6.2" height="10.3" fill="#f8000c" opacity="1.00"/>
<rect x="580.4" y="339.7" width="6.2" height="8.2" fill="#f8000c" opacity="1.00"/>
<rect x="589.0" y="339.7" width="6.2" height="6.7" fill="#f8000c" opacity="1.00"/>
<rect x="597.6" y="339.7" width="6.2" height="4.8" fill="#f8000c" opacity="1.00"/>
<rect x="606.2" y="339.7" width="6.2" height="2.3" fill="#f8000c" opacity="1.00"/>
<rect x="614.9" y="339.7" width="6.2" height="1.0" fill="#f8000c" opacity="0.50"/>
<rect x="623.5" y="338.0" width="6.2" height="1.7" fill="#06f80a" opacity="1.00"/>
<rect x="632.1" y="335.0" width="6.2" height="4.7" fill="#06f80a" opacity="1.00"/>
<rect x="640.7" y="333.9" width="6.2" height="5.8" fill="#06f80a" opacity="1.00"/>
<rect x="649.4" y="332.5" width="6.2" height="7.2" fill="#06f80a" opacity="1.00"/>
<rect x="658.0" y="332.9" width="6.2" height="6.8" fill="#06f80a" opacity="1.00"/>
<rect x="666.6" y="333.4" width="6.2" height="6.3" fill="#06f80a" opacity="1.00"/>
<rect x="675.2" y="333.7" width="6.2" height="6.0" fill="#06f80a" opacity="1.00"/>
<rect x="683.9" y="333.9" width="6.2" height="5.8" fill="#06f80a" opacity="1.00"/>
<rect x="-4" y="365.2" width="690.6" height="13.3" fill="#7df67d"/>
<polyline points="-4,378.5 686.8,378.5 686.8,365.2" fill="none" stroke="#2a5f2a" stroke-width="1"/>
<rect x="-4" y="397.3" width="690.6" height="13.9" fill="#fb7f7f"/>
<polyline points="-4,397.3 686.8,397.3 686.8,411.2" fill="none" stroke="#7a2a2a" stroke-width="1"/>
<line x1="40.0" y1="366" x2="40.0" y2="378" stroke="#000" stroke-opacity="0.05" stroke-width="1"/>
<line x1="40.0" y1="398" x2="40.0" y2="411" stroke="#000" stroke-opacity="0.05" stroke-width="1"/>
<line x1="91.7" y1="366" x2="91.7" y2="378" stroke="#000" stroke-opacity="0.05" stroke-width="1"/>
<line x1="91.7" y1="398" x2="91.7" y2="411" stroke="#000" stroke-opacity="0.05" stroke-width="1"/>
<line x1="143.5" y1="366" x2="143.5" y2="378" stroke="#000" stroke-opacity="0.05" stroke-width="1"/>
<line x1="143.5" y1="398" x2="143.5" y2="411" stroke="#000" stroke-opacity="0.05" stroke-width="1"/>
<line x1="195.2" y1="366" x2="195.2" y2="378" stroke="#000" stroke-opacity="0.05" stroke-width="1"/>
<line x1="195.2" y1="398" x2="195.2" y2="411" stroke="#000" stroke-opacity="0.05" stroke-width="1"/>
<line x1="247.0" y1="366" x2="247.0" y2="378" stroke="#000" stroke-opacity="0.05" stroke-width="1"/>
<line x1="247.0" y1="398" x2="247.0" y2="411" stroke="#000" stroke-opacity="0.05" stroke-width="1"/>
<line x1="307.4" y1="366" x2="307.4" y2="378" stroke="#000" stroke-opacity="0.05" stroke-width="1"/>
<line x1="307.4" y1="398" x2="307.4" y2="411" stroke="#000" stroke-opacity="0.05" stroke-width="1"/>
<line x1="359.1" y1="366" x2="359.1" y2="378" stroke="#000" stroke-opacity="0.05" stroke-width="1"/>
<line x1="359.1" y1="398" x2="359.1" y2="411" stroke="#000" stroke-opacity="0.05" stroke-width="1"/>
<line x1="410.9" y1="366" x2="410.9" y2="378" stroke="#000" stroke-opacity="0.05" stroke-width="1"/>
<line x1="410.9" y1="398" x2="410.9" y2="411" stroke="#000" stroke-opacity="0.05" stroke-width="1"/>
<line x1="462.7" y1="366" x2="462.7" y2="378" stroke="#000" stroke-opacity="0.05" stroke-width="1"/>
<line x1="462.7" y1="398" x2="462.7" y2="411" stroke="#000" stroke-opacity="0.05" stroke-width="1"/>
<line x1="514.4" y1="366" x2="514.4" y2="378" stroke="#000" stroke-opacity="0.05" stroke-width="1"/>
<line x1="514.4" y1="398" x2="514.4" y2="411" stroke="#000" stroke-opacity="0.05" stroke-width="1"/>
<line x1="574.8" y1="366" x2="574.8" y2="378" stroke="#000" stroke-opacity="0.05" stroke-width="1"/>
<line x1="574.8" y1="398" x2="574.8" y2="411" stroke="#000" stroke-opacity="0.05" stroke-width="1"/>
<line x1="626.6" y1="366" x2="626.6" y2="378" stroke="#000" stroke-opacity="0.05" stroke-width="1"/>
<line x1="626.6" y1="398" x2="626.6" y2="411" stroke="#000" stroke-opacity="0.05" stroke-width="1"/>
<line x1="678.3" y1="366" x2="678.3" y2="378" stroke="#000" stroke-opacity="0.05" stroke-width="1"/>
<line x1="678.3" y1="398" x2="678.3" y2="411" stroke="#000" stroke-opacity="0.05" stroke-width="1"/>
<polyline points="-4.0,381.9 0.0,383.3 5.8,385.3 14.2,385.0 22.5,385.3 31.7,384.5 40.0,383.2 48.3,384.5 57.0,383.7 65.5,387.3 74.2,391.5 82.8,388.2 91.3,391.2 100.0,393.7 109.2,387.8 117.5,386.2 125.8,385.3 135.0,386.2 143.3,386.5 151.7,385.3 160.8,384.8 169.2,384.5 178.3,382.3 186.7,381.7 195.0,377.5 203.3,377.0 211.7,378.2 220.8,377.8 230.0,379.3 237.5,380.3 246.7,384.5 255.0,385.8 264.2,387.8 273.0,395.0 281.7,395.8 290.0,394.0 298.7,392.0 307.5,393.7 316.2,394.5 324.7,390.3 333.0,397.3 341.7,396.7 350.3,396.5 359.2,386.2 367.5,383.3 376.2,380.7 384.7,377.8 394.2,377.5 402.5,379.5 410.8,380.3 419.7,379.8 428.3,381.2 436.7,384.0 445.5,385.0 454.2,387.3 462.5,389.1 471.7,388.7 480.0,388.7 488.7,387.5 497.5,387.8 505.8,387.5 514.2,389.2 523.0,389.2 531.7,390.7 540.5,397.0 549.2,395.7 557.5,396.2 566.7,395.0 575.0,393.4 583.3,391.7 591.7,392.8 600.8,391.5 609.2,388.3 618.3,388.2 626.7,385.8 635.0,383.3 643.7,384.5 652.5,383.7 661.2,384.5 670.0,385.3 678.3,384.2 686.7,384.2" fill="none" stroke="#5a72e2" stroke-width="1.15" stroke-linejoin="round"/>
<rect x="343" y="304.9" width="13.8" height="4.1" fill="#a3a3a3"/>
<rect x="343" y="307.2" width="13.8" height="0.8" fill="#c4c4c4"/>
<rect x="343" y="359.1" width="13.8" height="3.9" fill="#a3a3a3"/>
<rect x="343" y="361.2" width="13.8" height="0.8" fill="#c4c4c4"/>
<rect x="-4" y="3.5" width="23.3" height="15.1" fill="#000" opacity="0.63"/>
<text x="6.3" y="14.2" text-anchor="end" font-family="Liberation Sans" font-weight="bold" font-size="7.6" fill="#fff" stroke="#fff" stroke-width="0.2">USD/JPY</text>
<rect x="-4" y="22.3" width="33.0" height="15.2" fill="#000" opacity="0.63"/>
<text x="17.0" y="33.0" text-anchor="end" font-family="Liberation Sans" font-weight="bold" font-size="7.6" fill="#fff" stroke="#fff" stroke-width="0.2">SMA (100,0)</text>
<rect x="-4" y="41.2" width="33.0" height="15.1" fill="#000" opacity="0.63"/>
<text x="17.0" y="51.9" text-anchor="end" font-family="Liberation Sans" font-weight="bold" font-size="7.6" fill="#fff" stroke="#fff" stroke-width="0.2">SMA (200,0)</text>
<rect x="-4" y="312.8" width="46.6" height="14.7" fill="#000" opacity="0.63"/>
<text x="29.7" y="323.8" text-anchor="end" font-family="Liberation Sans" font-weight="bold" font-size="7.6" fill="#fff" stroke="#fff" stroke-width="0.2">MACD (12,26,9)</text>
<rect x="-4" y="367.1" width="47.0" height="14.9" fill="#000" opacity="0.63"/>
<text x="30.5" y="378.4" text-anchor="end" font-family="Liberation Sans" font-weight="bold" font-size="7.6" fill="#fff" stroke="#fff" stroke-width="0.2">RSI (14,70,30,1)</text>
<text x="744" y="21.7" font-family="Liberation Sans" font-size="7.7" fill="#505050" stroke="#505050" stroke-width="0.25">150.00</text>
<text x="744" y="40.6" font-family="Liberation Sans" font-size="7.7" fill="#505050" stroke="#505050" stroke-width="0.25">150.00</text>
<text x="744" y="59.5" font-family="Liberation Sans" font-size="7.7" fill="#505050" stroke="#505050" stroke-width="0.25">150.00</text>
<text x="744" y="78.4" font-family="Liberation Sans" font-size="7.7" fill="#505050" stroke="#505050" stroke-width="0.25">150.00</text>
<text x="744" y="97.3" font-family="Liberation Sans" font-size="7.7" fill="#505050" stroke="#505050" stroke-width="0.25">150.00</text>
<text x="744" y="116.2" font-family="Liberation Sans" font-size="7.7" fill="#505050" stroke="#505050" stroke-width="0.25">150.00</text>
<text x="744" y="135.1" font-family="Liberation Sans" font-size="7.7" fill="#505050" stroke="#505050" stroke-width="0.25">150.00</text>
<text x="744" y="154.0" font-family="Liberation Sans" font-size="7.7" fill="#505050" stroke="#505050" stroke-width="0.25">150.00</text>
<text x="744" y="173.0" font-family="Liberation Sans" font-size="7.7" fill="#505050" stroke="#505050" stroke-width="0.25">150.00</text>
<text x="744" y="191.9" font-family="Liberation Sans" font-size="7.7" fill="#505050" stroke="#505050" stroke-width="0.25">140.00</text>
<text x="744" y="210.8" font-family="Liberation Sans" font-size="7.7" fill="#505050" stroke="#505050" stroke-width="0.25">140.00</text>
<text x="744" y="229.7" font-family="Liberation Sans" font-size="7.7" fill="#505050" stroke="#505050" stroke-width="0.25">140.00</text>
<text x="744" y="248.6" font-family="Liberation Sans" font-size="7.7" fill="#505050" stroke="#505050" stroke-width="0.25">140.00</text>
<text x="744" y="267.5" font-family="Liberation Sans" font-size="7.7" fill="#505050" stroke="#505050" stroke-width="0.25">140.00</text>
<text x="744" y="286.4" font-family="Liberation Sans" font-size="7.7" fill="#505050" stroke="#505050" stroke-width="0.25">140.00</text>
<text x="744" y="305.4" font-family="Liberation Sans" font-size="7.7" fill="#505050" stroke="#505050" stroke-width="0.25">140.00</text>
<text x="744" y="323.8" font-family="Liberation Sans" font-size="7.7" fill="#808080" stroke="#808080" stroke-width="0.25">0.500</text>
<text x="744" y="343" font-family="Liberation Sans" font-size="7.7" fill="#808080" stroke="#808080" stroke-width="0.25">-0.00</text>
<text x="744" y="391.4" font-family="Liberation Sans" font-size="7.7" fill="#808080" stroke="#808080" stroke-width="0.25">50.00</text>
<text x="744" y="414.2" font-family="Liberation Sans" font-size="7.7" fill="#808080" stroke="#808080" stroke-width="0.25">0.00</text>
<polygon points="740.6,122.2 744.6,117.3 751,117.3 751,127 744.6,127" fill="#1f3b6f"/>
<text x="745.2" y="124.8" font-family="Liberation Sans" font-weight="bold" font-size="6.9" fill="#fff">150.6</text>
<text x="40.2" y="423.7" text-anchor="middle" font-family="Liberation Sans" font-size="8.2" fill="#8c8c8c">23</text>
<text x="92.0" y="423.7" text-anchor="middle" font-family="Liberation Sans" font-size="8.2" fill="#8c8c8c">24</text>
<text x="143.8" y="423.7" text-anchor="middle" font-family="Liberation Sans" font-size="8.2" fill="#8c8c8c">25</text>
<text x="195.5" y="423.7" text-anchor="middle" font-family="Liberation Sans" font-size="8.2" fill="#8c8c8c">26</text>
<text x="247.3" y="423.7" text-anchor="middle" font-family="Liberation Sans" font-size="8.2" fill="#8c8c8c">27</text>
<text x="307.7" y="423.7" text-anchor="middle" font-family="Liberation Sans" font-size="8.2" fill="#8c8c8c">30</text>
<text x="359.4" y="423.7" text-anchor="middle" font-family="Liberation Sans" font-size="8.2" fill="#8c8c8c">31</text>
<text x="411.2" y="423.7" text-anchor="middle" font-family="Liberation Sans" font-size="8.2" font-weight="bold" fill="#6a6a6a">Nov</text>
<text x="463.0" y="423.7" text-anchor="middle" font-family="Liberation Sans" font-size="8.2" fill="#8c8c8c">2</text>
<text x="514.7" y="423.7" text-anchor="middle" font-family="Liberation Sans" font-size="8.2" fill="#8c8c8c">3</text>
<text x="575.1" y="423.7" text-anchor="middle" font-family="Liberation Sans" font-size="8.2" fill="#8c8c8c">6</text>
<text x="626.9" y="423.7" text-anchor="middle" font-family="Liberation Sans" font-size="8.2" fill="#8c8c8c">7</text>
<text x="678.6" y="423.7" text-anchor="middle" font-family="Liberation Sans" font-size="8.2" fill="#8c8c8c">8</text>
<text x="730.4" y="423.7" text-anchor="middle" font-family="Liberation Sans" font-size="8.2" fill="#8c8c8c">9</text>
</g>
</svg></body></html>
